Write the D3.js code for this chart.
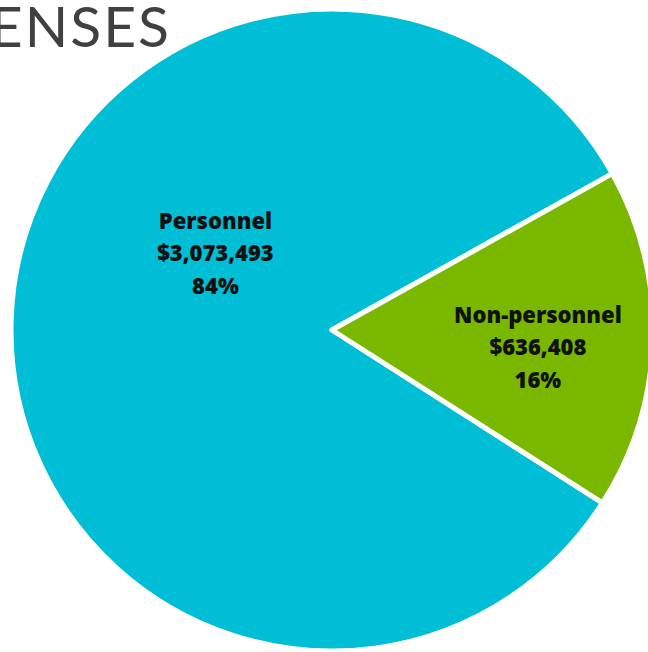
<!DOCTYPE html>
<html><head><meta charset="utf-8">
<script src="https://cdn.jsdelivr.net/npm/d3@7"></script>
<style>html,body{margin:0;padding:0;background:#fff;}svg{display:block;}</style>
</head><body>
<svg id="chart" width="648" height="652"></svg>
<script>
const categories = ["Personnel", "Non-personnel"];
const amounts = [3073493, 636408];
const percentLabels = ["84%", "16%"];
const colors = ["#00BED6", "#7AB800"];
const title = "EXPENSES";

const W = 648, H = 652;
const cx = 332, cy = 330, R = 321;
const svg = d3.select("#chart");

svg.append("text")
  .attr("x", 171).attr("y", 47)
  .attr("text-anchor", "end")
  .attr("font-family", "Lato, 'Open Sans', sans-serif")
  .attr("font-weight", 400)
  .attr("font-size", 57)
  .attr("letter-spacing", 2)
  .attr("fill", "#404041")
  .text(title);

const data = categories.map((c, i) => ({ name: c, value: amounts[i], pct: percentLabels[i], color: colors[i] }));
const start = 122.6 * Math.PI / 180;
const pie = d3.pie().value(d => d.value).sort(null).startAngle(start).endAngle(start + 2 * Math.PI);
const arcs = pie(data);
const arc = d3.arc().innerRadius(0).outerRadius(R);

const g = svg.append("g").attr("transform", `translate(${cx},${cy})`);
g.selectAll("path.slice").data(arcs).join("path")
  .attr("class", "slice")
  .attr("d", arc)
  .attr("fill", d => d.data.color)
  .attr("stroke", "#fff")
  .attr("stroke-width", 5)
  .attr("stroke-linejoin", "round");

const fmt = d3.format("$,");
const labelPos = [
  { r: 139, angle: 303 * Math.PI / 180, dy: 7 },
  { r: 206, angle: null, dy: 19 }
];
arcs.forEach((a, i) => {
  const ang = labelPos[i].angle != null ? labelPos[i].angle : (a.startAngle + a.endAngle) / 2;
  const x = Math.sin(ang) * labelPos[i].r;
  const y = -Math.cos(ang) * labelPos[i].r;
  const t = g.append("text")
    .attr("text-anchor", "middle")
    .attr("font-family", "'Open Sans', sans-serif")
    .attr("font-weight", 800)
    .attr("font-size", 22)
    .attr("fill", "#111");
  const lines = [a.data.name, fmt(a.data.value), a.data.pct];
  lines.forEach((ln, k) => {
    t.append("tspan").attr("x", x).attr("y", y + (k - 1) * 32.5 + labelPos[i].dy).text(ln);
  });
});
</script>
</body></html>
